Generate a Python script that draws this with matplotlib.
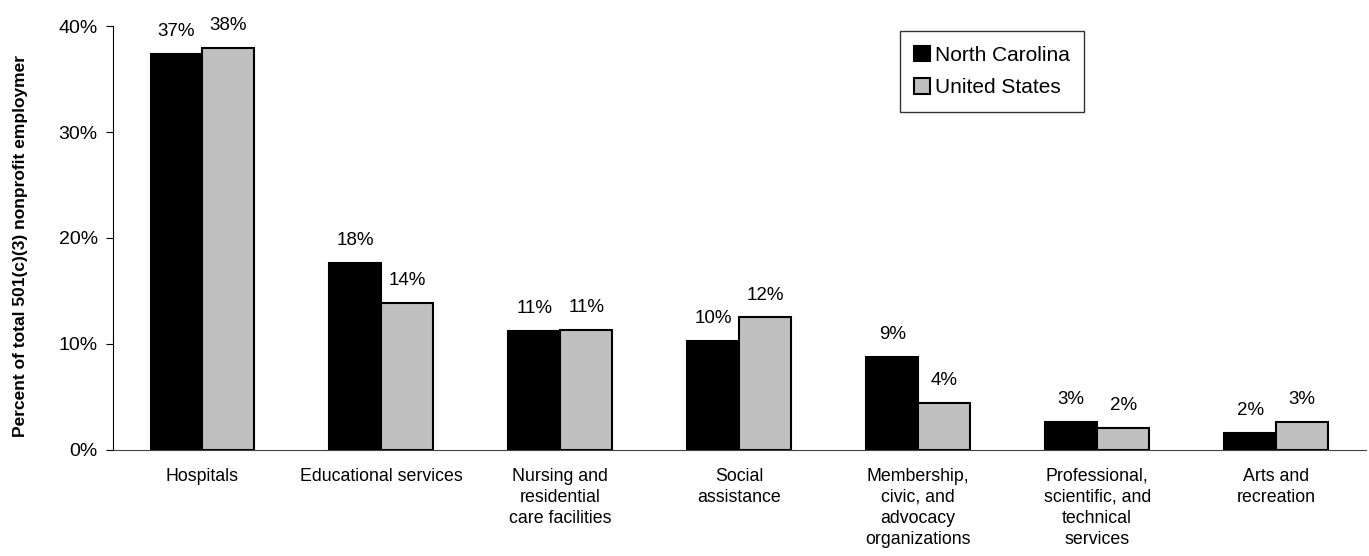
import matplotlib.pyplot as plt
import numpy as np

plt.rcParams["font.family"] = ["Liberation Sans", "DejaVu Sans"]

categories = [
    "Hospitals",
    "Educational services",
    "Nursing and\nresidential\ncare facilities",
    "Social\nassistance",
    "Membership,\ncivic, and\nadvocacy\norganizations",
    "Professional,\nscientific, and\ntechnical\nservices",
    "Arts and\nrecreation",
]
north_carolina = [37.4, 17.6, 11.2, 10.3, 8.8, 2.6, 1.6]
united_states = [37.9, 13.9, 11.3, 12.5, 4.4, 2.1, 2.6]

x = np.arange(len(categories))
w = 0.29

fig = plt.figure(figsize=(13.69, 5.56), dpi=100)
ax = fig.add_axes([0.0825, 0.191, 0.915, 0.762])

nc = ax.bar(x - w / 2, north_carolina, w, color="black", edgecolor="black",
            linewidth=1.5, label="North Carolina")
us = ax.bar(x + w / 2, united_states, w, color="#c0c0c0", edgecolor="black",
            linewidth=1.5, label="United States")

for bars in (nc, us):
    for b in bars:
        h = b.get_height()
        ax.annotate(f"{h:.0f}%", (b.get_x() + b.get_width() / 2, h),
                    xytext=(0, 10), textcoords="offset points",
                    ha="center", va="bottom", fontsize=13.5)

ax.set_xlim(-0.5, len(categories) - 0.5)
ax.set_ylim(0, 40)
ax.set_yticks([0, 10, 20, 30, 40])
ax.set_yticklabels([f"{v}%" for v in [0, 10, 20, 30, 40]], fontsize=14)
ax.set_xticks(x)
ax.set_xticklabels(categories, fontsize=12.8, linespacing=1.3)
ax.tick_params(axis="x", length=0, pad=13)
ax.tick_params(axis="y", length=5, direction="out", pad=6)
ax.set_ylabel("Percent of total 501(c)(3) nonprofit employmer",
              fontsize=12.5, fontweight="bold", labelpad=20)
ax.yaxis.set_label_coords(-0.068, 0.48)

for s in ("top", "right"):
    ax.spines[s].set_visible(False)
ax.spines["bottom"].set_color("#404040")

ax.legend(loc="upper left", bbox_to_anchor=(0.628, 0.988), borderaxespad=0,
          frameon=True, fancybox=False, edgecolor="black", fontsize=15,
          handlelength=0.75, handleheight=0.75, handletextpad=0.25,
          borderpad=0.7, labelspacing=0.65)

fig.savefig("out.png", dpi=100)
